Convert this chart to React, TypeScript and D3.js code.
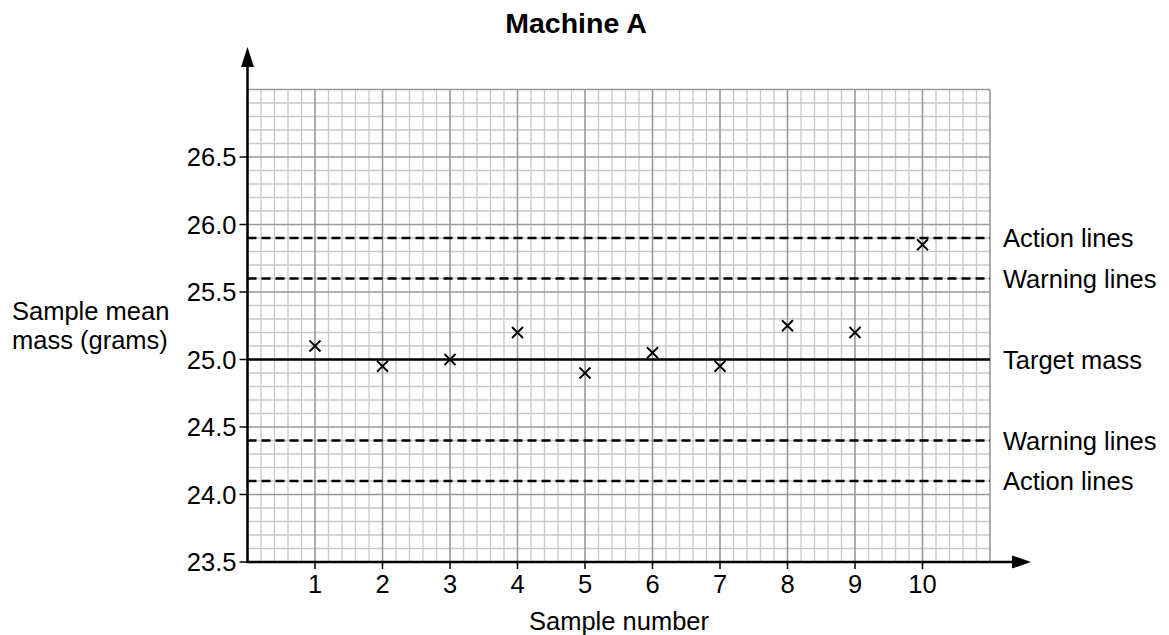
import React from "react";
import * as d3 from "d3";

const samples = [1, 2, 3, 4, 5, 6, 7, 8, 9, 10];
const means = [25.1, 24.95, 25.0, 25.2, 24.9, 25.05, 24.95, 25.25, 25.2, 25.85];
const yTicks = [23.5, 24.0, 24.5, 25.0, 25.5, 26.0, 26.5];
const xTicks = [1, 2, 3, 4, 5, 6, 7, 8, 9, 10];
const refValues = [25.9, 25.6, 25.0, 24.4, 24.1];
const refLabels = ["Action lines", "Warning lines", "Target mass", "Warning lines", "Action lines"];
const refDashed = [true, true, false, true, true];

const W = 1169;
const H = 635;
const FONT = "'Liberation Sans', Arial, sans-serif";
const FS = 25.5;

export default function App() {
  const x = d3.scaleLinear().domain([0, 11]).range([247.5, 990]);
  const y = d3.scaleLinear().domain([23.5, 27.0]).range([562, 89.5]);

  const xMinor = d3.range(0, 55 + 1).map((i) => i / 5);
  const yMinor = d3.range(0, 35 + 1).map((i) => 23.5 + i / 10);

  const x0 = x(0);
  const x1 = x(11);
  const yb = y(23.5);
  const yt = y(27.0);

  return (
    <svg
      width={W}
      height={H}
      style={{ position: "absolute", left: 0, top: 0, display: "block", background: "#fff" }}
      fontFamily={FONT}
    >
      <rect x={0} y={0} width={W} height={H} fill="#fff" />
      {/* minor grid */}
      {xMinor.map((v, i) =>
        i % 5 !== 0 ? (
          <line key={"vx" + i} x1={x(v)} x2={x(v)} y1={yb} y2={yt} stroke="#c9c9c9" strokeWidth={1.3} />
        ) : null
      )}
      {yMinor.map((v, i) =>
        i % 5 !== 0 ? (
          <line key={"hy" + i} x1={x0} x2={x1} y1={y(v)} y2={y(v)} stroke="#c9c9c9" strokeWidth={1.3} />
        ) : null
      )}
      {/* major grid */}
      {xMinor.map((v, i) =>
        i % 5 === 0 ? (
          <line key={"Vx" + i} x1={x(v)} x2={x(v)} y1={yb} y2={yt} stroke="#999" strokeWidth={1.6} />
        ) : null
      )}
      {yMinor.map((v, i) =>
        i % 5 === 0 ? (
          <line key={"Hy" + i} x1={x0} x2={x1} y1={y(v)} y2={y(v)} stroke="#999" strokeWidth={1.6} />
        ) : null
      )}

      {/* reference lines */}
      {refValues.map((v, i) => (
        <g key={"ref" + i}>
          <line
            x1={x0}
            x2={x1}
            y1={y(v)}
            y2={y(v)}
            stroke="#000"
            strokeWidth={2.5}
            strokeDasharray={refDashed[i] ? "9,5" : undefined}
          />
          <text x={1003} y={y(v)} dy="0.36em" fontSize={FS} fill="#000">
            {refLabels[i]}
          </text>
        </g>
      ))}

      {/* axes */}
      <line x1={x0} x2={x0} y1={yb + 1} y2={58} stroke="#000" strokeWidth={2.5} />
      <path d={`M${x0},47 L${x0 - 6.5},67 L${x0 + 6.5},67 Z`} fill="#000" />
      <line x1={x0 - 1} x2={1018} y1={yb} y2={yb} stroke="#000" strokeWidth={2.5} />
      <path d={`M1031,${yb} L1012,${yb - 6.5} L1012,${yb + 6.5} Z`} fill="#000" />

      {/* y ticks */}
      {yTicks.map((v) => (
        <g key={"yt" + v}>
          <line x1={x0 - 8} x2={x0} y1={y(v)} y2={y(v)} stroke="#000" strokeWidth={1.5} />
          <text x={x0 - 11} y={y(v)} dy="0.36em" textAnchor="end" fontSize={FS} fill="#000">
            {v.toFixed(1)}
          </text>
        </g>
      ))}
      {/* x ticks */}
      {xTicks.map((v) => (
        <g key={"xt" + v}>
          <line x1={x(v)} x2={x(v)} y1={yb} y2={yb + 7} stroke="#000" strokeWidth={1.5} />
          <text x={x(v)} y={593} textAnchor="middle" fontSize={FS} fill="#000">
            {v}
          </text>
        </g>
      ))}

      {/* points */}
      {samples.map((s, i) => {
        const cx = x(s);
        const cy = y(means[i]);
        const r = 5.5;
        return (
          <path
            key={"p" + i}
            d={`M${cx - r},${cy - r}L${cx + r},${cy + r}M${cx - r},${cy + r}L${cx + r},${cy - r}`}
            stroke="#000"
            strokeWidth={1.8}
            fill="none"
          />
        );
      })}

      {/* titles */}
      <text x={576} y={33} textAnchor="middle" fontSize={28.5} fontWeight="bold" fill="#000">
        Machine A
      </text>
      <text x={12} y={320} fontSize={FS} fill="#000">
        Sample mean
      </text>
      <text x={12} y={349} fontSize={FS} fill="#000">
        mass (grams)
      </text>
      <text x={619} y={630} textAnchor="middle" fontSize={FS} fill="#000">
        Sample number
      </text>
    </svg>
  );
}
